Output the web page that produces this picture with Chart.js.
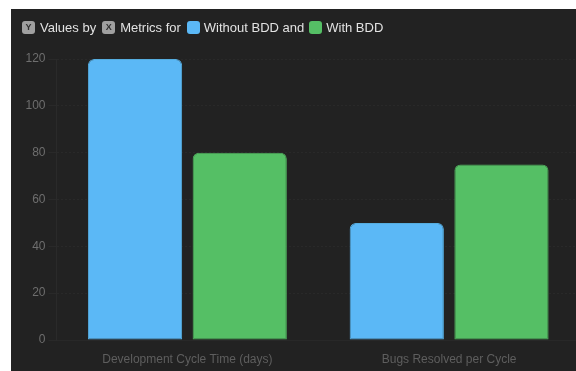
<!DOCTYPE html>
<html>
<head>
<meta charset="utf-8">
<script src="https://cdn.jsdelivr.net/npm/chart.js@4"></script>
<style>
  html, body { margin: 0; padding: 0; background: #fff; width: 576px; height: 371px; overflow: hidden; }
  #panel { position: absolute; left: 11px; top: 9px; width: 580px; height: 362px; background: #222222; overflow: hidden; }
  #title { position: absolute; left: 11px; top: 10px; height: 16px; display: flex; align-items: center;
           font-family: "Liberation Sans", Arial, sans-serif; font-size: 13px; color: #e2e2e2; white-space: nowrap; }
  .badge { display: inline-flex; width: 13px; height: 13px; border-radius: 3px; background: #a0a0a0; color: #303030;
           font-size: 9px; font-weight: bold; align-items: center; justify-content: center; }
  .sw { display: inline-block; width: 13px; height: 13px; border-radius: 3px; }
  #wrap { position: absolute; left: 0; top: 0; width: 569px; height: 362px; }
</style>
</head>
<body>
<div id="panel">
  <div id="wrap"><canvas id="c"></canvas></div>
  <div id="title">
    <span class="badge">Y</span><span style="margin-left:5px">Values by</span>
    <span class="badge" style="margin-left:6px">X</span><span style="margin-left:5px">Metrics for</span>
    <span class="sw" style="margin-left:6px;background:#5bb8f6"></span><span style="margin-left:4px">Without BDD and</span>
    <span class="sw" style="margin-left:5px;background:#55bf65"></span><span style="margin-left:4px">With BDD</span>
  </div>
</div>
<script>
const categories = ["Development Cycle Time (days)", "Bugs Resolved per Cycle"];
const seriesNames = ["Without BDD", "With BDD"];
const withoutBDD = [120, 50];
const withBDD = [80, 75];
const yTicks = [0, 20, 40, 60, 80, 100, 120];

new Chart(document.getElementById('c'), {
  type: 'bar',
  data: {
    labels: categories,
    datasets: [
      { label: seriesNames[0], data: withoutBDD, backgroundColor: '#5bb8f6', borderColor: '#55addf', borderWidth: 1,
        borderRadius: { topLeft: 6, topRight: 6, bottomLeft: 0, bottomRight: 0 }, borderSkipped: false },
      { label: seriesNames[1], data: withBDD, backgroundColor: '#55bf65', borderColor: '#4fb05d', borderWidth: 1,
        borderRadius: { topLeft: 6, topRight: 6, bottomLeft: 0, bottomRight: 0 }, borderSkipped: false }
    ]
  },
  options: {
    responsive: true,
    maintainAspectRatio: false,
    animation: false,
    layout: { padding: { top: 50, left: 0, right: 0, bottom: 0 } },
    plugins: { legend: { display: false }, tooltip: { enabled: false }, title: { display: false } },
    scales: {
      x: {
        grid: { display: false, drawTicks: false },
        border: { display: true, color: '#282828' },
        ticks: { color: '#5e5e5e', font: { family: 'Liberation Sans', size: 12 }, padding: 12 },
        afterFit: s => { s.height = 31; }
      },
      y: {
        min: 0, max: 120,
        afterBuildTicks: s => { s.ticks = yTicks.map(v => ({ value: v })); },
        grid: { color: '#292929', tickLength: 8 },
        border: { display: true, color: '#2a2a2a', dash: [2, 2] },
        ticks: { color: '#6e6e6e', font: { family: 'Liberation Sans', size: 12 }, padding: 3 },
        afterFit: s => { s.width = 45.5; }
      }
    }
  }
});
</script>
</body>
</html>
